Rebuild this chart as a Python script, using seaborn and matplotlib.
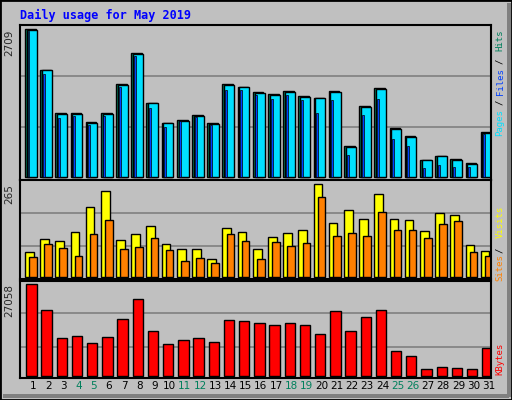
import numpy as np
import seaborn as sns
import matplotlib.pyplot as plt
from matplotlib.patches import Rectangle

days = np.arange(1, 32)
hits = [2709, 1955, 1165, 1165, 1000, 1165, 1698, 2273, 1349, 981, 1036, 1128, 981, 1698, 1643, 1551,
        1514, 1569, 1477, 1440, 1569, 558, 1293, 1624, 889, 742, 301, 374, 319, 246, 816]
files = [2690, 1955, 1150, 1150, 985, 1150, 1680, 2255, 1349, 981, 1030, 1115, 965, 1680, 1643, 1535,
         1500, 1550, 1470, 1440, 1550, 555, 1280, 1605, 875, 725, 301, 374, 315, 235, 800]
pages = [2680, 1886, 1073, 1115, 950, 1110, 1643, 2218, 1256, 907, 1018, 1091, 950, 1593, 1593, 1502,
         1422, 1495, 1404, 1165, 1404, 392, 1128, 1422, 686, 564, 153, 209, 172, 172, 779]
visits = [70, 107, 101, 127, 199, 245, 104, 121, 144, 93, 78, 78, 50, 139, 127, 78,
          113, 124, 133, 265, 153, 190, 165, 236, 165, 162, 130, 182, 176, 90, 73]
sites = [55, 93, 81, 58, 121, 162, 78, 84, 110, 76, 44, 53, 38, 121, 101, 50,
         98, 87, 96, 228, 116, 124, 116, 185, 133, 133, 110, 150, 159, 70, 58]
kbytes = [27058, 19355, 11060, 11653, 9579, 11357, 16689, 22614, 13134, 9283, 10468, 11060, 9875, 16393,
          16097, 15504, 14911, 15504, 14911, 12245, 19059, 13134, 17282, 19355, 7209, 5728, 1876, 2469,
          2173, 1876, 8098]
weekends = [4, 5, 11, 12, 18, 19, 25, 26]

sns.set_style("white")
plt.rcParams['font.family'] = ['DejaVu Sans Mono', 'DejaVu Sans']
GRAY = "#C0C0C0"
fig = plt.figure(figsize=(5.12, 4), dpi=100, facecolor=GRAY)

# outer border with shadow
fig.patches.append(Rectangle((0, 0), 1, 1, transform=fig.transFigure, fill=False, ec="black", lw=2))
fig.patches.append(Rectangle((507 / 512, 3 / 400), 4 / 512, 394 / 400, transform=fig.transFigure,
                             color="#808080", lw=0))
fig.patches.append(Rectangle((3 / 512, 2 / 400), 506 / 512, 4 / 400, transform=fig.transFigure,
                             color="#808080", lw=0))

def px(x, y):
    return x / 512, 1 - y / 400

def make_ax(top, bottom, ylim, grids):
    l, b = 20 / 512, 1 - bottom / 400
    ax = fig.add_axes([l, b, 471 / 512, (bottom - top) / 400])
    ax.set_facecolor(GRAY)
    ax.set_xlim(0.145, 31.145)
    ax.set_ylim(*ylim)
    for g in grids:
        ax.axhline(g, color="#808080", lw=1.2, zorder=0)
    for s in ax.spines.values():
        s.set_color("black")
        s.set_linewidth(1.5)
    ax.set_xticks([])
    ax.set_yticks([])
    return ax

kw = dict(align="edge", edgecolor="black", linewidth=1)
d = np.array(days)

ax1 = make_ax(24.7, 179.7, (-55, 2794), [1851, 913])
ax1.bar(d - 0.53, hits, width=0.7, color="#00805C", **kw)
ax1.bar(d - 0.42, files, width=0.66, color="#00E0FF", **kw)
ax1.bar(d - 0.36, pages, width=0.13, color="#0040FF", edgecolor="black", linewidth=0.5, align="edge")

ax2 = make_ax(180, 279.3, (-7.5, 277), [182, 88])
ax2.bar(d - 0.53, visits, width=0.57, color="#FFFF00", **kw)
ax2.bar(d - 0.26, sites, width=0.5, color="#FF8000", **kw)

ax3 = make_ax(280.7, 377.7, (-592, 28124), [18470, 8584])
ax3.bar(d - 0.44, kbytes, width=0.68, color="#FF0000", **kw)

for ax, v in [(ax1, 2709), (ax2, 265), (ax3, 27058)]:
    ax.text(-0.012, v, str(v), transform=ax.get_yaxis_transform(), rotation=90,
            ha="right", va="top", fontsize=7.5, family="DejaVu Sans")

for day in days:
    ax3.text(day, -0.035, str(day), transform=ax3.get_xaxis_transform(), ha="center", va="top",
             fontsize=7.5, family="DejaVu Sans",
             color="#00805C" if day in weekends else "black")

fig.text(*px(20, 15), "Daily usage for May 2019", color="#0000FF", fontweight="bold",
         fontsize=8.5, va="center", ha="left")

def side(y, s, c):
    fig.text(*px(500, y), s, color=c, rotation=90, ha="center", va="center", fontsize=6.5)

side(123, "Pages", "#00E0FF")
side(102, "/", "black")
side(82, "Files", "#0040FF")
side(61, "/", "black")
side(40, "Hits", "#00805C")
side(268, "Sites", "#FF8000")
side(250, "/", "black")
side(222, "Visits", "#FFFF00")
side(359, "KBytes", "#FF0000")

fig.savefig("out.png", dpi=100, facecolor=GRAY)
